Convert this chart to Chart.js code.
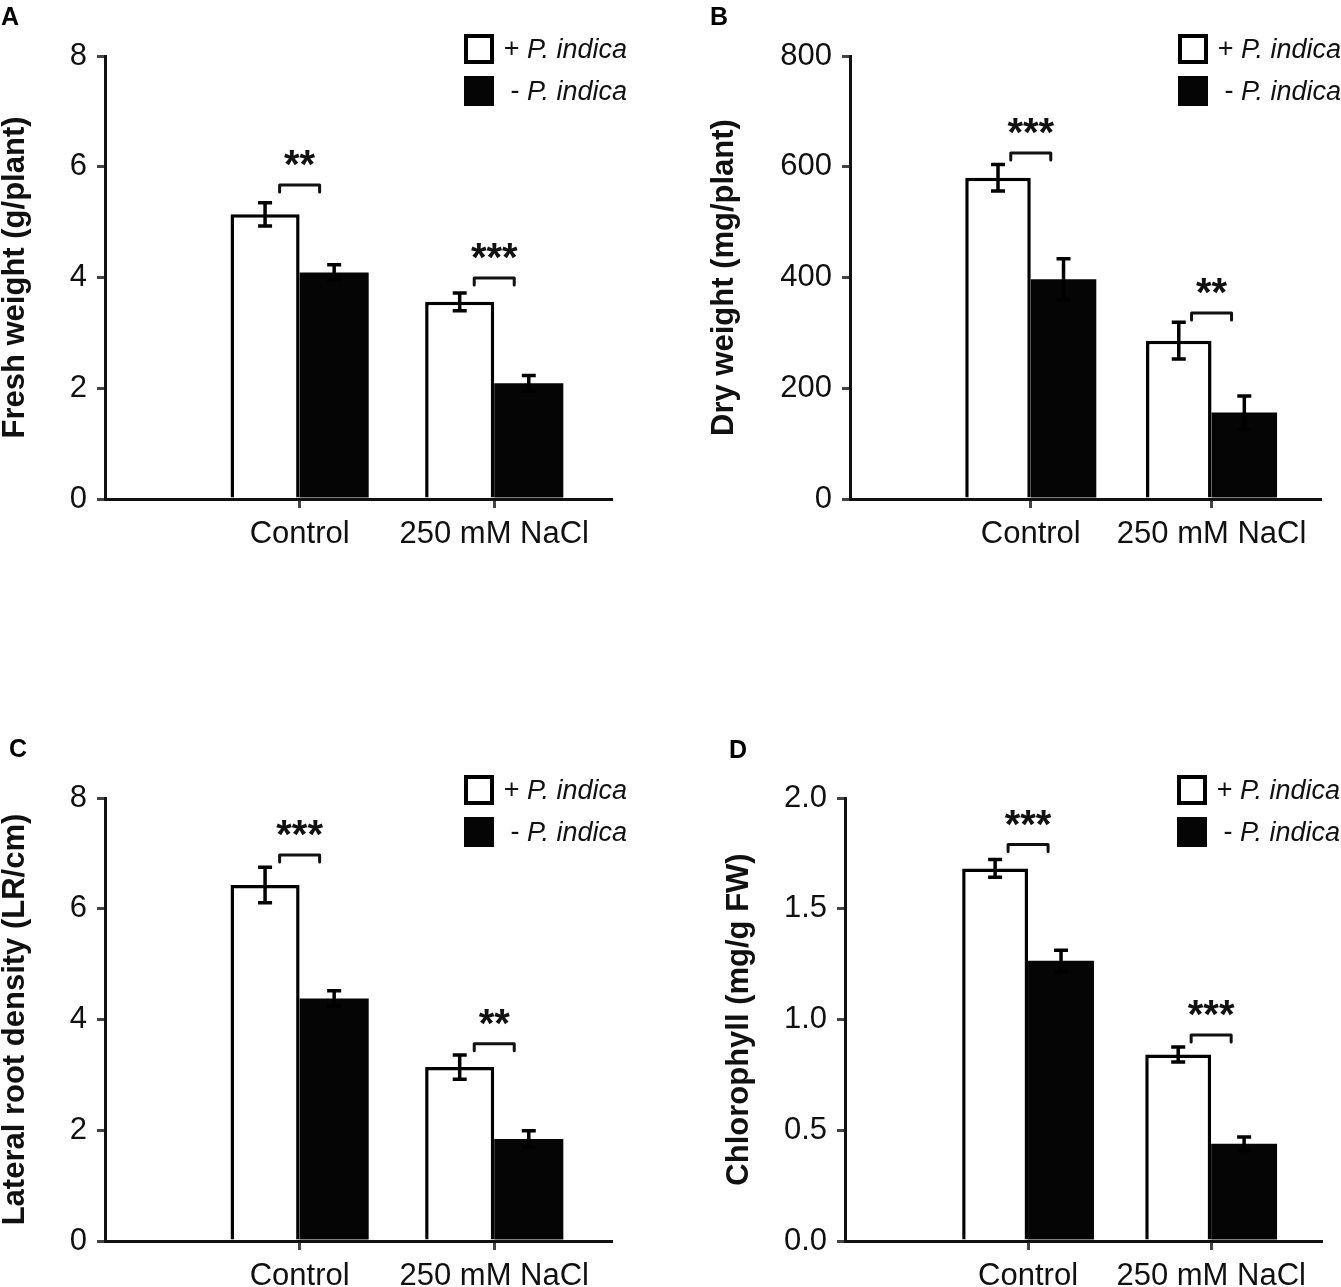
<!DOCTYPE html>
<html>
<head>
<meta charset="utf-8">
<script src="https://cdn.jsdelivr.net/npm/chart.js@4.4.1/dist/chart.umd.min.js"></script>
<style>
  body { margin:0; background:#fff; width:1341px; height:1287px; position:relative; overflow:hidden; }
  canvas { position:absolute; }
</style>
</head>
<body>
<canvas id="cA" width="670" height="560" style="left:0;top:0"></canvas>
<canvas id="cB" width="641" height="560" style="left:700px;top:0"></canvas>
<canvas id="cC" width="670" height="557" style="left:0;top:730px"></canvas>
<canvas id="cD" width="641" height="557" style="left:700px;top:730px"></canvas>
<script>
const FONT = "'Liberation Sans', Arial, Helvetica, sans-serif";

// shared
const categories = ['Control', '250 mM NaCl'];
const catPos = [1, 2];
const seriesLabels = ['+ P. indica', '- P. indica'];

// A - fresh weight
const freshPlus = [5.14, 3.56];
const freshPlusErr = [0.21, 0.16];
const freshMinus = [4.09, 2.09];
const freshMinusErr = [0.14, 0.14];
const freshSigY = [5.67, 3.99];
const freshSig = ['**', '***'];

// B - dry weight
const dryPlus = [580, 286];
const dryPlusErr = [24, 33];
const dryMinus = [397, 156];
const dryMinusErr = [37, 30];
const drySigY = [625, 336];
const drySig = ['***', '**'];

// C - lateral root density
const lrdPlus = [6.43, 3.14];
const lrdPlusErr = [0.32, 0.22];
const lrdMinus = [4.38, 1.84];
const lrdMinusErr = [0.14, 0.15];
const lrdSigY = [6.97, 3.56];
const lrdSig = ['***', '**'];

// D - chlorophyll
const chlPlus = [1.682, 0.842];
const chlPlusErr = [0.04, 0.034];
const chlMinus = [1.265, 0.439];
const chlMinusErr = [0.048, 0.03];
const chlSigY = [1.79, 0.93];
const chlSig = ['***', '***'];

function pts(vals){ return vals.map((v, i) => ({ x: catPos[i], y: v })); }

const errorBars = {
  id: 'errorBars',
  afterDatasetsDraw(chart){
    const ctx = chart.ctx, ys = chart.scales.y;
    chart.data.datasets.forEach((ds, i) => {
      chart.getDatasetMeta(i).data.forEach((bar, j) => {
        const v = ds.data[j].y, e = ds.errors[j];
        const t = ys.getPixelForValue(v + e), b = ys.getPixelForValue(v - e);
        ctx.save();
        ctx.strokeStyle = '#000'; ctx.lineWidth = 3.5;
        ctx.beginPath();
        ctx.moveTo(bar.x, t); ctx.lineTo(bar.x, b);
        ctx.moveTo(bar.x - 7, t); ctx.lineTo(bar.x + 7, t);
        ctx.moveTo(bar.x - 7, b); ctx.lineTo(bar.x + 7, b);
        ctx.stroke();
        ctx.restore();
      });
    });
  }
};

const sigMarks = {
  id: 'sigMarks',
  afterDatasetsDraw(chart, args, o){
    const ctx = chart.ctx, xs = chart.scales.x, ys = chart.scales.y;
    o.levels.forEach((lv, j) => {
      const cx = xs.getPixelForValue(catPos[j]);
      const y = ys.getPixelForValue(lv);
      ctx.save();
      ctx.strokeStyle = '#111'; ctx.lineWidth = 3;
      ctx.lineJoin = 'round'; ctx.lineCap = 'round';
      ctx.beginPath();
      ctx.moveTo(cx - 20, y + 7); ctx.lineTo(cx - 20, y);
      ctx.lineTo(cx + 20, y); ctx.lineTo(cx + 20, y + 7);
      ctx.stroke();
      ctx.fillStyle = '#111';
      ctx.font = 'bold 40px ' + FONT;
      ctx.textAlign = 'center'; ctx.textBaseline = 'alphabetic';
      ctx.fillText(o.marks[j], cx, y - 7);
      ctx.restore();
    });
  }
};

const keyBox = {
  id: 'keyBox',
  afterDraw(chart, args, o){
    const ctx = chart.ctx;
    ctx.save();
    chart.data.datasets.forEach((ds, i) => {
      const by = o.y + i * 42;
      if (i === 0) {
        ctx.fillStyle = '#fff'; ctx.fillRect(o.x, by, 30, 30);
        ctx.strokeStyle = '#000'; ctx.lineWidth = 4;
        ctx.strokeRect(o.x + 2, by + 2, 26, 26);
      } else {
        ctx.fillStyle = ds.backgroundColor; ctx.fillRect(o.x, by, 30, 30);
      }
      const [sign, ...rest] = ds.label.split(' ');
      const tx = o.x + 63;
      ctx.fillStyle = '#111';
      ctx.textBaseline = 'middle';
      ctx.font = '27px ' + FONT;
      ctx.textAlign = 'right';
      ctx.fillText(sign + ' ', tx, by + 16);
      ctx.font = 'italic 27px ' + FONT;
      ctx.textAlign = 'left';
      ctx.fillText(rest.join(' '), tx, by + 16);
    });
    ctx.restore();
  }
};

const panelLetter = {
  id: 'panelLetter',
  afterDraw(chart, args, o){
    const ctx = chart.ctx;
    ctx.save();
    ctx.fillStyle = '#000';
    ctx.font = 'bold 25px ' + FONT;
    ctx.textBaseline = 'alphabetic';
    ctx.fillText(o.text, o.x, o.y);
    ctx.restore();
  }
};

function makePanel(id, o){
  const canvas = document.getElementById(id);
  const W = canvas.width, H = canvas.height;
  return new Chart(canvas, {
    type: 'bar',
    data: {
      datasets: [
        { label: seriesLabels[0], data: pts(o.plus), errors: o.plusErr,
          backgroundColor: '#fff', borderColor: '#000', borderWidth: 3.5 },
        { label: seriesLabels[1], data: pts(o.minus), errors: o.minusErr,
          backgroundColor: '#050505', borderWidth: 0 }
      ]
    },
    options: {
      responsive: false,
      animation: false,
      events: [],
      categoryPercentage: o.catPct,
      barPercentage: 1,
      layout: { padding: { left: 0, top: o.area.top, right: W - o.area.right, bottom: 0 } },
      plugins: {
        legend: { display: false },
        tooltip: { enabled: false },
        sigMarks: { levels: o.sigY, marks: o.sig },
        keyBox: o.key,
        panelLetter: o.letter
      },
      scales: {
        x: {
          type: 'linear', min: 0, max: 2.6, offset: false, z: 1,
          afterBuildTicks: s => { s.ticks = catPos.map(v => ({ value: v })); },
          afterFit: s => { s.height = H - o.area.bottom; },
          ticks: {
            callback: v => categories[catPos.indexOf(v)],
            font: { family: FONT, size: 31 }, color: '#111',
            padding: 8, maxRotation: 0, autoSkip: false
          },
          grid: { drawOnChartArea: false, offset: false, tickLength: 9, lineWidth: 3, color: '#444' },
          border: { display: true, color: '#111', width: 3 }
        },
        y: {
          min: 0, max: o.yMax,
          afterFit: s => { s.width = o.area.left; },
          ticks: {
            stepSize: o.yStep, callback: o.yFmt,
            font: { family: FONT, size: 31 }, color: '#111', padding: 10
          },
          grid: { drawOnChartArea: false, tickLength: 8, lineWidth: 3, color: '#444' },
          border: { display: true, color: '#111', width: 3 },
          title: {
            display: true, text: o.yTitle, color: '#111',
            font: { family: FONT, size: 31, weight: 'bold', lineHeight: 1 },
            padding: { top: o.titlePad, bottom: 0 }
          }
        }
      }
    },
    plugins: [errorBars, sigMarks, keyBox, panelLetter]
  });
}

const intFmt = v => String(v);

makePanel('cA', {
  plus: freshPlus, plusErr: freshPlusErr, minus: freshMinus, minusErr: freshMinusErr,
  sigY: freshSigY, sig: freshSig,
  yMax: 8, yStep: 2, yFmt: intFmt, yTitle: 'Fresh weight (g/plant)', titlePad: 0,
  area: { left: 105, right: 611, top: 56, bottom: 499 }, catPct: 0.71,
  key: { x: 464, y: 34 }, letter: { text: 'A', x: 1, y: 25 }
});

makePanel('cB', {
  plus: dryPlus, plusErr: dryPlusErr, minus: dryMinus, minusErr: dryMinusErr,
  sigY: drySigY, sig: drySig,
  yMax: 800, yStep: 200, yFmt: intFmt, yTitle: 'Dry weight (mg/plant)', titlePad: 9,
  area: { left: 150, right: 620, top: 56, bottom: 499 }, catPct: 0.725,
  key: { x: 478, y: 34 }, letter: { text: 'B', x: 10, y: 25 }
});

makePanel('cC', {
  plus: lrdPlus, plusErr: lrdPlusErr, minus: lrdMinus, minusErr: lrdMinusErr,
  sigY: lrdSigY, sig: lrdSig,
  yMax: 8, yStep: 2, yFmt: intFmt, yTitle: 'Lateral root density (LR/cm)', titlePad: 0,
  area: { left: 105, right: 611, top: 68, bottom: 511 }, catPct: 0.71,
  key: { x: 464, y: 45 }, letter: { text: 'C', x: 9, y: 27 }
});

makePanel('cD', {
  plus: chlPlus, plusErr: chlPlusErr, minus: chlMinus, minusErr: chlMinusErr,
  sigY: chlSigY, sig: chlSig,
  yMax: 2, yStep: 0.5, yFmt: v => v.toFixed(1), yTitle: 'Chlorophyll (mg/g FW)', titlePad: 24,
  area: { left: 145, right: 621, top: 68, bottom: 511 }, catPct: 0.72,
  key: { x: 477, y: 45 }, letter: { text: 'D', x: 29, y: 28 }
});
</script>
</body>
</html>
